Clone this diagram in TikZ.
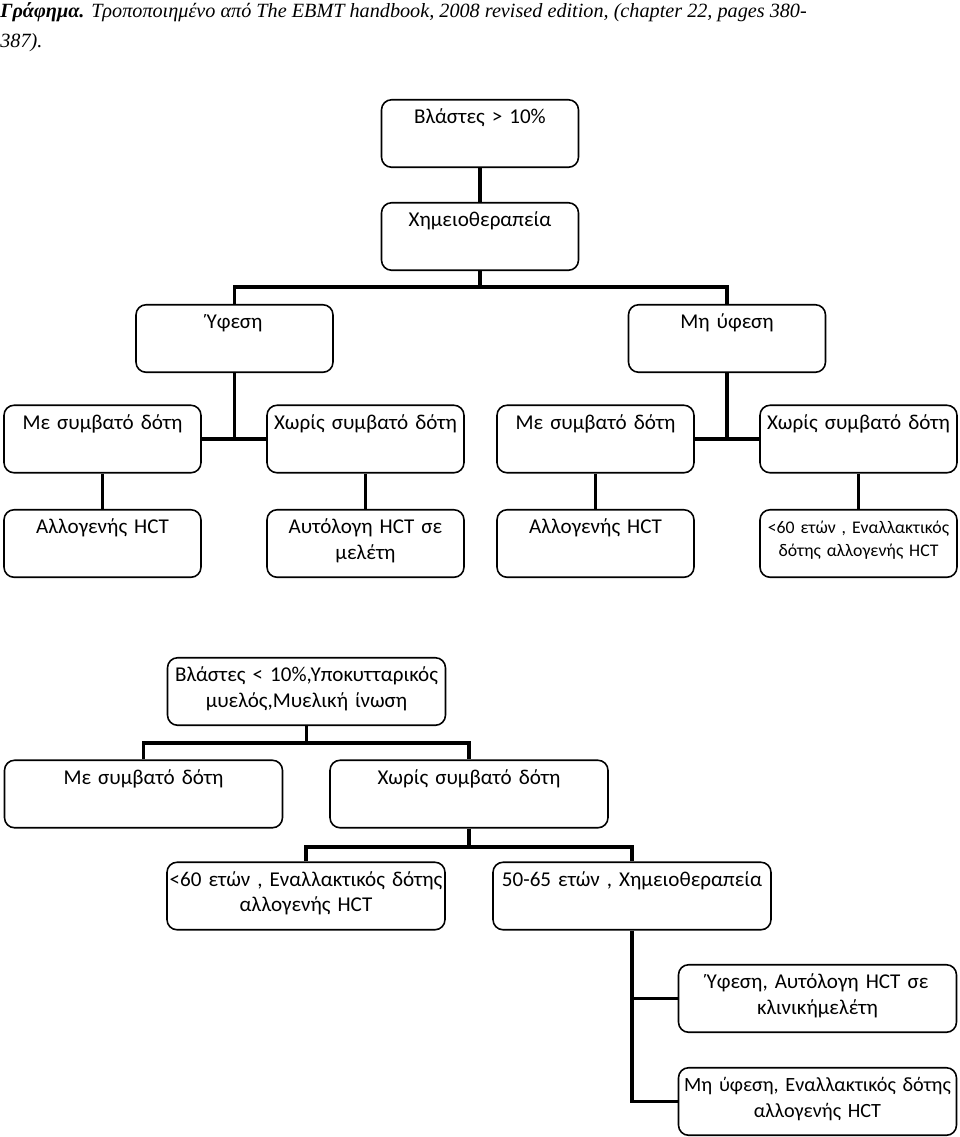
\documentclass[tikz,border=0pt]{standalone}
\usepackage{fontspec}
\setmainfont{Carlito}
\newfontfamily\capfont{Liberation Serif}
\tikzset{
  box/.style={draw,fill=white,rounded corners=0.2cm,line width=0.9pt,inner xsep=0pt,inner ysep=0pt,align=center,text width=3.94cm,text height=0.48cm,text depth=0.87cm,font=\fontsize{12}{14.6}\selectfont},
  wide/.style={box,text width=5.56cm},
  link/.style={line width=2.2pt}
}

\begin{document}
\begin{tikzpicture}[x=0.02cm,y=-0.02cm]
\useasboundingbox (0,0) rectangle (960,1137);
\node[anchor=north west,align=left,inner sep=0pt,font=\capfont\itshape\fontsize{11.5}{17}\selectfont](cap) at (0,2){\textbf{Γράφημα.} Τροποποιημένο από The EBMT handbook, 2008 revised edition, (chapter 22, pages 380-\\387).};
\node[box](top) at (480,133.5){Βλάστες > 10\%};
\node[box](chemo) at (480,236.5){Χημειοθεραπεία};
\node[box](rem) at (234.5,338.5){Ύφεση};
\node[box](norem) at (727,338.5){Μη ύφεση};
\node[box](rd) at (102.5,439){Με συμβατό δότη};
\node[box](rn) at (365.5,439){Χωρίς συμβατό δότη};
\node[box](nd) at (595.5,439){Με συμβατό δότη};
\node[box](nn) at (858.5,439){Χωρίς συμβατό δότη};
\node[box](rda) at (102.5,543.5){Αλλογενής HCT};
\node[box](rna) at (365.5,543.5){Αυτόλογη HCT σε\\μελέτη};
\node[box](nda) at (595.5,543.5){Αλλογενής HCT};
\node[box,font=\fontsize{10.1}{13}\selectfont](nna) at (858.5,543.5){<60 ετών , Εναλλακτικός\\δότης αλλογενής HCT};
\node[wide](low) at (306.5,691.5){Βλάστες < 10\%,Υποκυτταρικός\\μυελός,Μυελική ίνωση};
\node[wide](ld) at (143.5,794){Με συμβατό δότη};
\node[wide](ln) at (469,794){Χωρίς συμβατό δότη};
\node[wide](ly) at (306,896){<60 ετών , Εναλλακτικός δότης\\αλλογενής HCT};
\node[wide](lo) at (632,896){50-65 ετών , Χημειοθεραπεία};
\node[wide](lr) at (817.5,998.5){Ύφεση, Αυτόλογη HCT σε\\κλινικήμελέτη};
\node[wide,font=\fontsize{11.5}{14.6}\selectfont](lm) at (817.5,1101.5){Μη ύφεση, Εναλλακτικός δότης\\αλλογενής HCT};
\coordinate(j1) at (480,287);
\coordinate(j2) at (306.5,743);
\coordinate(j3) at (469,847);
\draw[link](top)--(chemo)(chemo)--(j1)(rem)|-(j1)-|(norem);
\draw[link](rem)--(rem|-rd)(rd)--(rn)(norem)--(norem|-nd)(nd)--(nn);
\draw[link](rd)--(rda)(rn)--(rna)(nd)--(nda)(nn)--(nna);
\draw[link](low)--(j2)(ld)|-(j2)-|(ln);
\draw[link](ln)--(j3)(ly)|-(j3)-|(lo);
\draw[link](lo.south)|-(lr)(lo.south)|-(lm);
\end{tikzpicture}
\end{document}
